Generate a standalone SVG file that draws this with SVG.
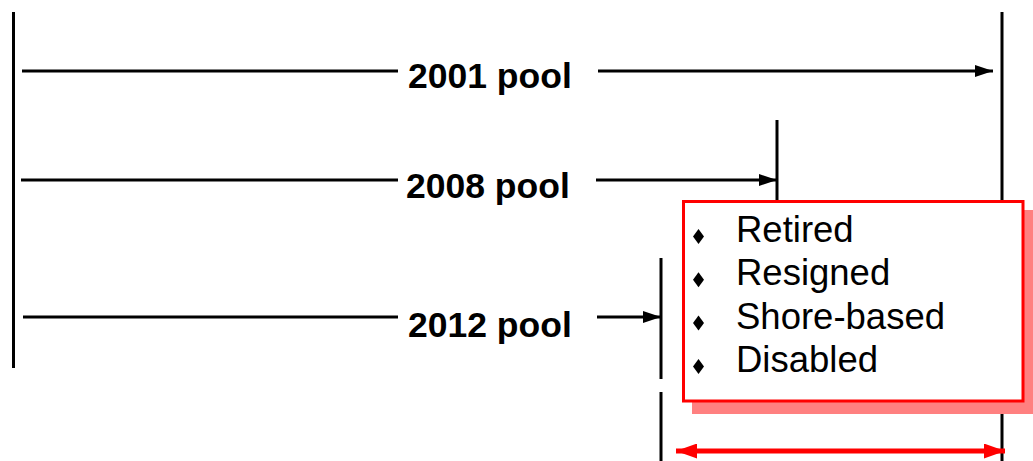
<svg xmlns="http://www.w3.org/2000/svg" width="1033" height="461" viewBox="0 0 1033 461">
  <defs>
    <marker id="arrow-black" viewBox="0 0 18 12" refX="18" refY="6" markerWidth="18" markerHeight="12" markerUnits="userSpaceOnUse" orient="auto">
      <path d="M0,0 L18,6 L0,12 Z" fill="#000"/>
    </marker>
    <marker id="arrow-red" viewBox="0 0 21 15" refX="21" refY="7.5" markerWidth="21" markerHeight="15" markerUnits="userSpaceOnUse" orient="auto-start-reverse">
      <path d="M0,0 L21,7.5 L0,15 Z" fill="#FF0000"/>
    </marker>
  </defs>
  <style>
    .rule { stroke: #000; stroke-width: 3; fill: none; }
    .lead { stroke: #000; stroke-width: 3; fill: none; }
    .label { font-family: "Liberation Sans", Arial, sans-serif; font-weight: bold; font-size: 35.5px; fill: #000; }
    .item { font-family: "Liberation Sans", Arial, sans-serif; font-size: 36.5px; fill: #000; }
    .bullet { fill: #000; }
  </style>
  <rect width="1033" height="461" fill="#fff"/>

  <!-- boundary markers -->
  <g id="boundaries">
    <line class="rule" x1="13.5" y1="12" x2="13.5" y2="368"/>
    <line class="rule" x1="1002" y1="12" x2="1002" y2="461"/>
    <line class="rule" x1="777" y1="120" x2="777" y2="202"/>
    <line class="rule" x1="661" y1="258" x2="661" y2="379"/>
    <line class="rule" x1="661" y1="392" x2="661" y2="461"/>
  </g>

  <!-- connectors -->
  <g id="connectors">
    <line class="lead" x1="22" y1="71" x2="398" y2="71"/>
    <line class="lead" x1="598" y1="71" x2="993" y2="71" marker-end="url(#arrow-black)"/>
    <line class="lead" x1="21" y1="180" x2="398" y2="180"/>
    <line class="lead" x1="596" y1="180" x2="777" y2="180" marker-end="url(#arrow-black)"/>
    <line class="lead" x1="23" y1="317" x2="398" y2="317"/>
    <line class="lead" x1="597" y1="317" x2="661" y2="317" marker-end="url(#arrow-black)"/>
    <line x1="676" y1="451" x2="1005" y2="451" stroke="#FF0000" stroke-width="5" marker-start="url(#arrow-red)" marker-end="url(#arrow-red)"/>
  </g>

  <g id="pool-2001">
    <text class="label" x="408" y="87.5">2001 pool</text>
  </g>
  <g id="pool-2008">
    <text class="label" x="406" y="197.5">2008 pool</text>
  </g>
  <g id="pool-2012">
    <text class="label" x="408" y="337">2012 pool</text>
  </g>

  <!-- exit reasons box with offset shadow -->
  <g id="exit-reasons">
    <rect x="692" y="210" width="342" height="204" fill="#FF8080"/>
    <rect x="683.5" y="201.5" width="339.5" height="199.5" fill="#fff" stroke="#FF0000" stroke-width="3"/>
    <polygon class="bullet" points="698.5,229 704,236.5 698.5,244 693,236.5"/>
    <polygon class="bullet" points="698.5,272.3 704,279.8 698.5,287.3 693,279.8"/>
    <polygon class="bullet" points="698.5,315.6 704,323.1 698.5,330.6 693,323.1"/>
    <polygon class="bullet" points="698.5,358.9 704,366.4 698.5,373.9 693,366.4"/>
    <text class="item" x="736" y="242">Retired</text>
    <text class="item" x="736" y="285.3">Resigned</text>
    <text class="item" x="736" y="328.6">Shore-based</text>
    <text class="item" x="736" y="371.9">Disabled</text>
  </g>
</svg>
